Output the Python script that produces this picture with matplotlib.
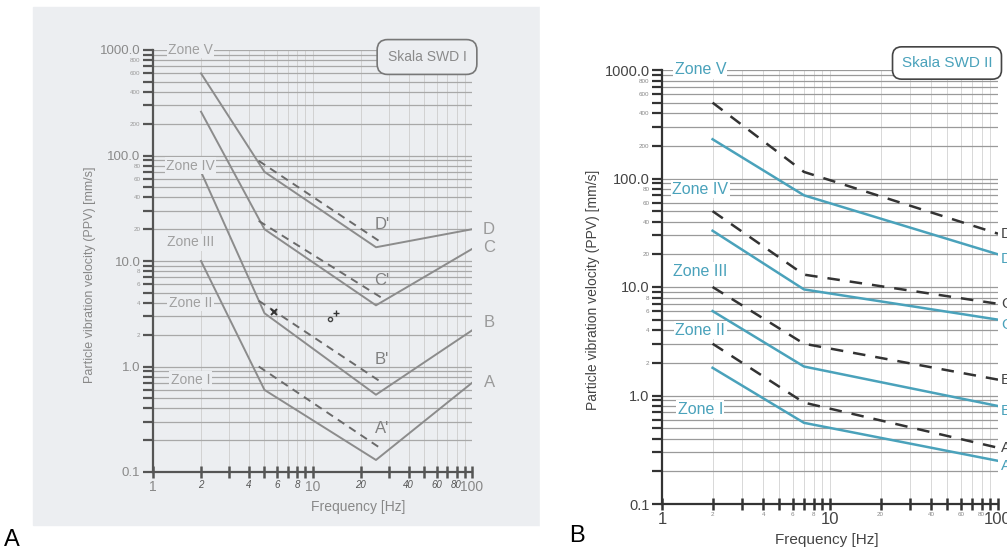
import matplotlib
matplotlib.use('Agg')
import matplotlib.pyplot as plt
from matplotlib.patches import Rectangle

plt.rcParams['font.family'] = ['Liberation Sans', 'DejaVu Sans']

W, H = 1007, 555

# --- Skala SWD I (panel A): solid limits A-D and dashed limits A'-D'
freq_a = [2, 5, 25, 100]
swd1_a = [10, 0.6, 0.13, 0.7]
swd1_b = [70, 3.2, 0.54, 2.2]
swd1_c = [260, 20, 3.8, 13]
swd1_d = [600, 70, 13.5, 20]
freq_a_dash = [4.6, 27]
swd1_a_dash = [1.0, 0.166]
swd1_b_dash = [4.2, 0.71]
swd1_c_dash = [24, 4.5]
swd1_d_dash = [89, 15]
# hand-drawn marks on the scan
marks_x = [5.7, 12.8, 14.0]
marks_y = [3.3, 2.8, 3.2]

# --- Skala SWD II (panel B)
freq_b = [2, 7, 100]
swd2_a = [1.8, 0.56, 0.25]
swd2_b = [6, 1.85, 0.8]
swd2_c = [33, 9.5, 5]
swd2_d = [230, 70, 20]
swd2_a_dash = [3, 0.86, 0.33]
swd2_b_dash = [10, 3, 1.4]
swd2_c_dash = [50, 13, 7]
swd2_d_dash = [500, 115, 31]

zones = ['Zone V', 'Zone IV', 'Zone III', 'Zone II', 'Zone I']
zone_y_a = [1000, 80, 15, 4, 0.75]
zone_y_b = [1000, 80, 14, 4, 0.75]

curve_names = ['A', 'B', 'C', 'D']
label_a_y = [0.7, 2.6, 13.4, 20]
label_a_dash_y = [0.26, 1.17, 6.5, 22]

x_major = [1, 10, 100]
x_major_lbl = ['1', '10', '100']
x_minor = [2, 3, 4, 5, 6, 7, 8, 9, 20, 30, 40, 50, 60, 70, 80, 90]
x_minor_lbl = ['2', '', '4', '', '6', '', '8', '', '20', '', '40', '', '60', '', '80', '']
y_major = [0.1, 1, 10, 100, 1000]
y_major_lbl = ['0.1', '1.0', '10.0', '100.0', '1000.0']
y_minor = [m * d for d in [0.1, 1, 10, 100] for m in range(2, 10)]
y_minor_lbl = [''] * 8 + ['2', '', '4', '', '6', '', '8', ''] + \
    ['20', '', '40', '', '60', '', '80', ''] + ['200', '', '400', '', '600', '', '800', '']

BG_A = '#eceef1'
TEAL = '#4aa2bb'


def px_axes(fig, left, right, top, bottom):
    return fig.add_axes([left / W, (H - bottom) / H, (right - left) / W, (bottom - top) / H])


def setup(ax, grid_h, grid_v, spine_col, lbl_col, minor_col, big, small):
    ax.set_xscale('log')
    ax.set_yscale('log')
    ax.set_xlim(1, 100)
    ax.set_ylim(0.1, 1000)
    ax.set_facecolor('none')
    for s in ['top', 'right']:
        ax.spines[s].set_visible(False)
    for s in ['left', 'bottom']:
        ax.spines[s].set_color(spine_col)
        ax.spines[s].set_linewidth(1.6)
    ax.set_xticks(x_major, x_major_lbl)
    ax.set_xticks(x_minor, x_minor_lbl, minor=True)
    ax.set_yticks(y_major, y_major_lbl)
    ax.set_yticks(y_minor, y_minor_lbl, minor=True)
    ax.tick_params(axis='x', which='both', direction='inout', length=8, width=1.8,
                   color=spine_col, pad=2)
    ax.tick_params(axis='y', which='both', direction='out', length=7, width=1.6,
                   color=spine_col, pad=2)
    ax.tick_params(which='major', labelsize=big, labelcolor=lbl_col)
    ax.tick_params(which='minor', labelsize=small, labelcolor=minor_col)
    ax.grid(which='both', axis='y', color=grid_h, lw=0.9)
    ax.grid(which='both', axis='x', color=grid_v, lw=0.6)
    ax.set_axisbelow(True)


fig = plt.figure(figsize=(W / 100, H / 100), dpi=100)
fig.patches.append(Rectangle((33 / W, (H - 525) / H), 507 / W, 518 / H,
                             transform=fig.transFigure, color=BG_A, zorder=-5))

# ---------------- panel A
ax1 = px_axes(fig, 153, 472, 50, 472)
setup(ax1, '#a8a8a8', '#cdcdcd', '#555555', '#8a8a8a', '#9a9a9a', 9.5, 4.5)
for t in ax1.get_xticklabels(minor=True):
    t.set_fontstyle('italic')
    t.set_fontsize(7)
    t.set_color('#555555')
for t in ax1.get_xticklabels():
    t.set_color('#888888')
    t.set_fontsize(10)

solid_a = [swd1_a, swd1_b, swd1_c, swd1_d]
dash_a = [swd1_a_dash, swd1_b_dash, swd1_c_dash, swd1_d_dash]
for ys in solid_a:
    ax1.plot(freq_a, ys, color='#8c8c8c', lw=1.4)
for ys in dash_a:
    ax1.plot(freq_a_dash, ys, color='#6a6a6a', lw=1.4, dashes=(4, 3))
for name, yl, yd in zip(curve_names, label_a_y, label_a_dash_y):
    ax1.text(27.3, yd, name + "'", color='#808080', fontsize=12, ha='center', va='center')
    ax1.text(128, yl, name, color='#9a9a9a', fontsize=12, ha='center', va='center',
             clip_on=False)
ax1.plot(marks_x[:1], marks_y[:1], marker='x', color='#333333', ms=5, mew=1.4, ls='none')
ax1.plot(marks_x[1:2], marks_y[1:2], marker='o', mfc='none', mec='#444444', ms=3, ls='none')
ax1.plot(marks_x[2:], marks_y[2:], marker='+', color='#333333', ms=4, mew=1, ls='none')
for z, y in zip(zones, zone_y_a):
    ax1.text(1.72, y, z, color='#a0a0a0', fontsize=10, ha='center', va='center',
             bbox=dict(fc=BG_A, ec='none', pad=1))

fig.text(427 / W, (H - 57) / H, 'Skala SWD I', color='#8a8a8a', fontsize=10,
         ha='center', va='center',
         bbox=dict(boxstyle='round,pad=0.75', fc=BG_A, ec='#777777', lw=1.2))
fig.text(90 / W, (H - 275) / H, 'Particle vibration velocity (PPV) [mm/s]',
         rotation=90, color='#888888', fontsize=9, ha='center', va='center')
fig.text(358 / W, (H - 507) / H, 'Frequency [Hz]', color='#888888', fontsize=10,
         ha='center', va='center')

# ---------------- panel B
fig.patches.append(Rectangle((540 / W, 0), 467 / W, 1, transform=fig.transFigure,
                             color='white', zorder=-4))
ax2 = px_axes(fig, 662, 998, 70, 504)
setup(ax2, '#9a9a9a', '#d2d2d2', '#333333', '#444444', '#888888', 10.5, 4.5)
for t in ax2.get_xticklabels():
    t.set_fontsize(12)

solid_b = [swd2_a, swd2_b, swd2_c, swd2_d]
dash_b = [swd2_a_dash, swd2_b_dash, swd2_c_dash, swd2_d_dash]
for ys in solid_b:
    ax2.plot(freq_b, ys, color=TEAL, lw=1.8)
for ys in dash_b:
    ax2.plot(freq_b, ys, color='#333333', lw=1.8, dashes=(5, 4))
for name, ys, yd in zip(curve_names, solid_b, dash_b):
    ax2.text(104, yd[-1], name + "'", color='#444444', fontsize=11, ha='left',
             va='center', clip_on=False)
    ax2.text(104, ys[-1] * 0.9, name, color=TEAL, fontsize=11, ha='left',
             va='center', clip_on=False)
for z, y in zip(zones, zone_y_b):
    ax2.text(1.69, y, z, color=TEAL, fontsize=11.5, ha='center', va='center',
             bbox=dict(fc='white', ec='none', pad=1))

fig.text(947 / W, (H - 63) / H, 'Skala SWD II', color=TEAL, fontsize=11,
         ha='center', va='center',
         bbox=dict(boxstyle='round,pad=0.6', fc='white', ec='#444444', lw=1.2))
fig.text(593 / W, (H - 290) / H, 'Particle vibration velocity (PPV) [mm/s]',
         rotation=90, color='#444444', fontsize=10, ha='center', va='center')
fig.text(827 / W, (H - 540) / H, 'Frequency [Hz]', color='#444444', fontsize=11,
         ha='center', va='center')

# panel letters
fig.text(12 / W, (H - 540) / H, 'A', fontsize=17, ha='center', va='center')
fig.text(577 / W, (H - 536) / H, 'B', fontsize=17, ha='center', va='center')

fig.savefig('out.png', dpi=100)
